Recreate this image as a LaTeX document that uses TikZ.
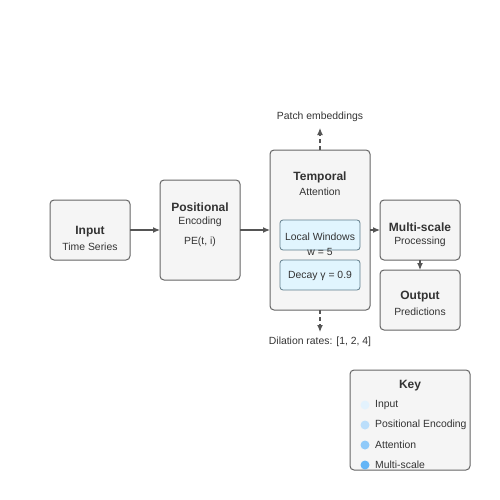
\documentclass[tikz,border=0pt]{standalone}
\usepackage{fontspec}
\setmainfont{Liberation Sans}
\usetikzlibrary{arrows.meta}
\definecolor{boxfill}{HTML}{F5F5F5}
\definecolor{boxdraw}{HTML}{666666}
\definecolor{innerfill}{HTML}{E1F5FE}
\definecolor{innerdraw}{HTML}{607D8B}
\definecolor{arr}{HTML}{555555}
\definecolor{txt}{HTML}{333333}
\definecolor{kA}{HTML}{E3F2FD}
\definecolor{kB}{HTML}{BBDEFB}
\definecolor{kC}{HTML}{90CAF9}
\definecolor{kD}{HTML}{64B5F6}
\begin{document}
\begin{tikzpicture}[x=1pt,y=-1pt,
  mainbox/.style={draw=boxdraw,fill=boxfill,line width=1pt,rounded corners=4pt},
  innerbox/.style={draw=innerdraw,fill=innerfill,line width=0.8pt,rounded corners=3pt},
  ttl/.style={font=\fontsize{12}{14}\selectfont\bfseries,text=txt,inner sep=0pt},
  sub/.style={font=\fontsize{10.4}{12}\selectfont,text=txt,inner sep=0pt},
  conn/.style={draw=arr,line width=1.2pt,-{Latex[length=7pt,width=6pt]}},
  dconn/.style={draw=arr,line width=1.2pt,dash pattern=on 4pt off 3pt,-{Latex[length=7pt,width=6pt]}},
  keydot/.style={circle,inner sep=0pt,minimum size=9pt}
]
\useasboundingbox (0,0) rectangle (500,500);
% boxes
\draw[mainbox] (50,200) rectangle (130,260);
\draw[mainbox] (160,180) rectangle (240,280);
\draw[mainbox] (270,150) rectangle (370,310);
\draw[mainbox] (380,200) rectangle (460,260);
\draw[mainbox] (380,270) rectangle (460,330);
\draw[innerbox] (280,220) rectangle (360,250);
\draw[innerbox] (280,260) rectangle (360,290);
% anchor coordinates
\coordinate (inR) at (130,230);
\coordinate (peL) at (160,230);
\coordinate (peR) at (240,230);
\coordinate (taL) at (270,230);
\coordinate (taR) at (370,230);
\coordinate (msL) at (380,230);
\coordinate (msB) at (420,260);
\coordinate (ouT) at (420,270);
\coordinate (taT) at (320,150);
\coordinate (taB) at (320,310);
\coordinate (upE) at (320,128);
\coordinate (dnE) at (320,332);
% texts
\node[ttl] (t1) at (90,232) {Input};
\node[sub] (s1) at (90,247) {Time Series};
\node[ttl] (t2) at (200,207) {Positional};
\node[sub] (s2) at (200,222) {Encoding};
\node[sub] (s2b) at (200,242) {PE(t, i)};
\node[ttl] (t3) at (320,177) {Temporal};
\node[sub] (s3) at (320,192) {Attention};
\node[sub] (lw) at (320,237) {Local Windows};
\node[sub] (w5) at (320,252) {w = 5};
\node[sub] (dc) at (320,276) {Decay γ = 0.9};
\node[ttl] (t4) at (420,227) {Multi-scale};
\node[sub] (s4) at (420,242) {Processing};
\node[ttl] (t5) at (420,297) {Output};
\node[sub] (s5) at (420,312) {Predictions};
\node[sub] (pe) at (320,117) {Patch embeddings};
\node[sub] (dr) at (320,342) {Dilation rates: [1, 2, 4]};
% connectors
\draw[conn] (inR) -- (peL);
\draw[conn] (peR) -- (taL);
\draw[conn] (taR) -- (msL);
\draw[conn] (msB) -- (ouT);
\draw[dconn] (taT) -- (upE);
\draw[dconn] (taB) -- (dnE);
% key
\draw[mainbox] (350,370) rectangle (470,470);
\node[ttl] (kt) at (410,386) {Key};
\node[keydot,fill=kA] (d1) at (365,405) {};
\node[keydot,fill=kB] (d2) at (365,425) {};
\node[keydot,fill=kC] (d3) at (365,445) {};
\node[keydot,fill=kD] (d4) at (365,465) {};
\node[sub,anchor=west] (k1) at (375,405) {Input};
\node[sub,anchor=west] (k2) at (375,425) {Positional Encoding};
\node[sub,anchor=west] (k3) at (375,445) {Attention};
\node[sub,anchor=west] (k4) at (375,465) {Multi-scale};
\end{tikzpicture}
\end{document}
